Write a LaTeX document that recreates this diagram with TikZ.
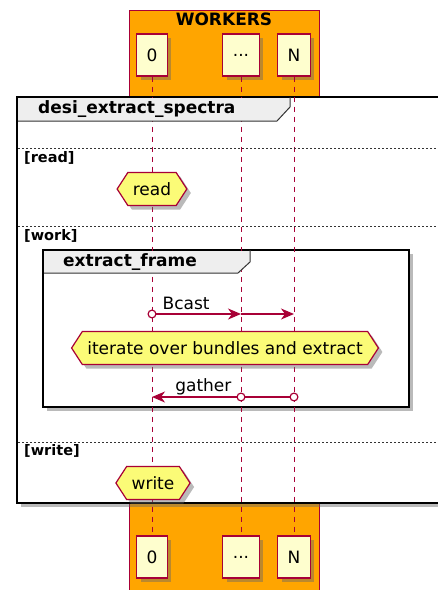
\documentclass[tikz,border=0pt]{standalone}
\usepackage{fontspec}
\setmainfont{DejaVu Sans}
\usetikzlibrary{arrows.meta,shapes.symbols,shadows}
\definecolor{umlred}{HTML}{A80036}
\definecolor{umlbox}{HTML}{FEFECE}
\definecolor{umlnote}{HTML}{FBFB77}
\definecolor{umlorange}{HTML}{FFA500}
\definecolor{umltab}{HTML}{EEEEEE}
\tikzset{
  ring/.tip={Circle[fill=white, length=9pt, width=9pt]},
  >={Stealth[length=13pt, width=11pt, inset=4pt]}
}
\begin{document}
\begin{tikzpicture}[x=1pt, y=-1pt,
  umlshadow/.style={drop shadow={shadow xshift=4pt, shadow yshift=-4pt, opacity=0.45, fill=black!60}},
  worker/.style={draw=umlred, fill=umlbox, line width=1.2pt, minimum height=42pt, inner xsep=10pt, font=\fontsize{17}{20}\selectfont, umlshadow},
  hexa/.style={signal, signal to=west and east, signal pointer angle=114, draw=umlred, fill=umlnote, line width=1.2pt, minimum height=33pt, inner xsep=5pt, inner ysep=2pt, font=\fontsize{17}{20}\selectfont, umlshadow},
  frame/.style={draw=black, fill=white, line width=2.5pt, umlshadow},
  tabtext/.style={anchor=west, inner sep=0pt, font=\bfseries\fontsize{17}{20}\selectfont},
  sep/.style={draw=black!80, line width=0.8pt, dash pattern=on 2pt off 2pt},
  seplabel/.style={anchor=west, inner sep=0pt, font=\bfseries\fontsize{14.5}{17}\selectfont},
  life/.style={draw=umlred, line width=1pt, dash pattern=on 5pt off 5pt},
  msg/.style={draw=umlred, line width=1.2pt},
  lbl/.style={inner sep=0pt, font=\fontsize{17}{20}\selectfont}]
\useasboundingbox (0,0) rectangle (438,590);
\clip (0,0) rectangle (438,590);

% box of workers
\draw[draw=umlred, fill=umlorange, line width=0.8pt] (129,10) rectangle (319,600);
\node[font=\bfseries\fontsize{17}{20}\selectfont] (wk) at (224,19) {WORKERS};

\node[worker] (p0) at (152,55) {0};
\node[worker] (pd) at (241,55) {...};
\node[worker] (pn) at (294,55) {N};
\node[worker] (b0) at (152,557) {0};
\node[worker] (bd) at (241,557) {...};
\node[worker] (bn) at (294,557) {N};

% frames
\draw[frame] (17,97) rectangle (470,503);
\draw[frame] (43,250) rectangle (409,407);

\draw[life] (p0) -- (b0);
\draw[life] (pd) -- (bd);
\draw[life] (pn) -- (bn);

% tabs
\fill[umltab] (18.2,98.2) -- (290,98.2) -- (290,107) -- (277,121) -- (18.2,121) -- cycle;
\draw[black!80, line width=1pt] (290,97) -- (290,107) -- (277,121) -- (18.2,121);
\node[tabtext] (t1) at (38,109) {desi\_extract\_spectra};
\fill[umltab] (44.2,251.2) -- (250,251.2) -- (250,262) -- (238,273) -- (44.2,273) -- cycle;
\draw[black!80, line width=1pt] (250,250) -- (250,262) -- (238,273) -- (44.2,273);
\node[tabtext] (t2) at (63,262) {extract\_frame};

% sections
\draw[sep] (18,148) -- (440,148);
\node[seplabel] (lr) at (24,158) {[read]};
\draw[sep] (18,226) -- (440,226);
\node[seplabel] (lw) at (24,236) {[work]};
\draw[sep] (18,442) -- (440,442);
\node[seplabel] (lt) at (24,451) {[write]};

\node[hexa] (rd) at (152,189) {read};
\node[hexa] (it) at (225,348) {iterate over bundles and extract};
\node[hexa] (wr) at (153,483) {write};

% messages
\coordinate (c0) at (p0 |- 0,314);
\coordinate (cd) at (pd |- 0,314);
\coordinate (cn) at (pn |- 0,314);
\coordinate (g0) at (p0 |- 0,397);
\coordinate (gd) at (pd |- 0,397);
\coordinate (gn) at (pn |- 0,397);
\draw[msg, ring->, shorten <=-4.5pt] (c0) -- node[lbl, pos=0, anchor=base west, xshift=10pt, yshift=5pt] {Bcast} (cd);
\draw[msg, ->] (cd) -- (cn);
\draw[msg, ring-, shorten <=-4.5pt] (gn) -- (gd);
\draw[msg, ring->, shorten <=-4.5pt] (gd) -- node[lbl, pos=0, anchor=base east, xshift=-9pt, yshift=6pt] {gather} (g0);
\end{tikzpicture}
\end{document}
